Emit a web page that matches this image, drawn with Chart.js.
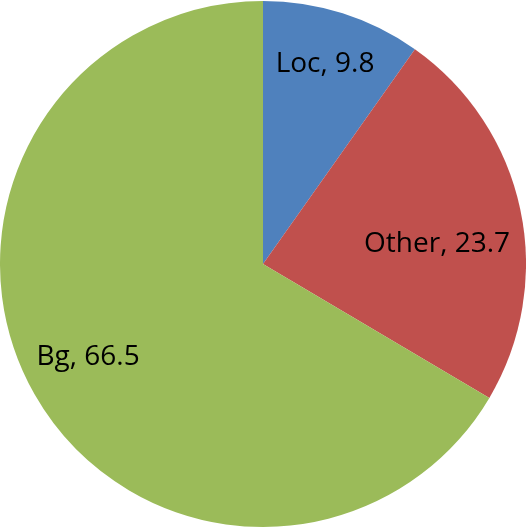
<!DOCTYPE html>
<html>
<head>
<meta charset="utf-8">
<script src="https://cdn.jsdelivr.net/npm/chart.js@4/dist/chart.umd.min.js"></script>
<style>
  html, body { margin: 0; padding: 0; background: #fff; }
  #wrap { width: 526px; height: 528px; }
</style>
</head>
<body>
<div id="wrap"><canvas id="pie"></canvas></div>
<script>
// data
const categories = ['Loc', 'Other', 'Bg'];
const values     = [9.8, 23.7, 66.5];
const colors     = ['#4F81BD', '#C0504D', '#9BBB59'];

// where each label sits inside its slice (share of the slice angle, share of the radius)
const labelAngleFrac  = [0.484, 0.557, 0.509];
const labelRadiusFrac = [0.803, 0.667, 0.75];

const sliceLabels = {
  id: 'sliceLabels',
  afterDatasetsDraw(chart) {
    const { ctx } = chart;
    const meta = chart.getDatasetMeta(0);
    ctx.save();
    ctx.font = '28px "Open Sans", sans-serif';
    ctx.fillStyle = '#000';
    ctx.textAlign = 'center';
    ctx.textBaseline = 'alphabetic';
    meta.data.forEach((arc, i) => {
      const a = arc.startAngle + (arc.endAngle - arc.startAngle) * labelAngleFrac[i];
      const r = arc.outerRadius * labelRadiusFrac[i];
      const x = arc.x + Math.cos(a) * r;
      const y = arc.y + Math.sin(a) * r;
      // centre the capitals on the anchor point
      ctx.fillText(`${categories[i]}, ${values[i]}`, x, y + 10);
    });
    ctx.restore();
  }
};

new Chart(document.getElementById('pie'), {
  type: 'pie',
  data: {
    labels: categories,
    datasets: [{
      data: values,
      backgroundColor: colors,
      borderWidth: 0
    }]
  },
  options: {
    responsive: true,
    maintainAspectRatio: false,
    animation: false,
    layout: { padding: 0 },
    plugins: {
      legend: { display: false },
      tooltip: { enabled: false }
    }
  },
  plugins: [sliceLabels]
});
</script>
</body>
</html>
